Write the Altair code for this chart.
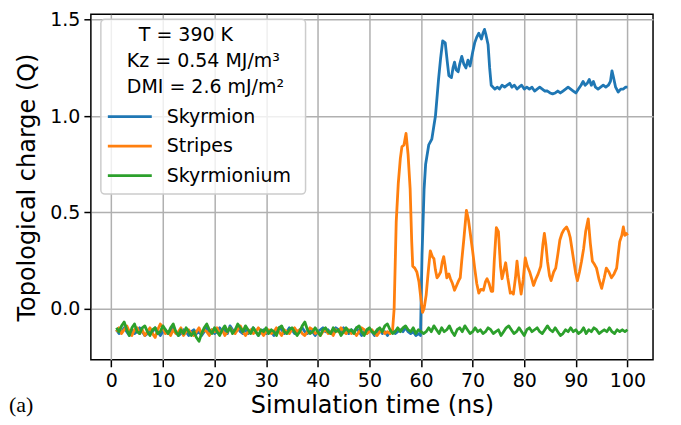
import altair as alt
import pandas as pd

# ---------------- data ----------------
SERIES = ["Skyrmion", "Stripes", "Skyrmionium"]
COLORS = ["#1f77b4", "#ff7f0e", "#2ca02c"]
INFO_LINES = ["T = 390 K", "Kz = 0.54 MJ/m\u00b3", "DMI = 2.6 mJ/m\u00b2"]
X_TICKS = [0, 10, 20, 30, 40, 50, 60, 70, 80, 90, 100]
Y_TICKS = [0.0, 0.5, 1.0, 1.5]

# Skyrmion: flat noisy part, t = 1.0 .. 59.5 every 0.5 ns
sky_flat = [
    -0.11, -0.13, -0.12, -0.10, -0.12, -0.14, -0.11, -0.13, -0.12, -0.10,
    -0.12, -0.14, -0.13, -0.11, -0.12, -0.10, -0.12, -0.14, -0.12, -0.11,
    -0.13, -0.12, -0.10, -0.12, -0.14, -0.13, -0.11, -0.12, -0.14, -0.12,
    -0.11, -0.13, -0.12, -0.14, -0.12, -0.10, -0.12, -0.11, -0.13, -0.12,
    -0.10, -0.12, -0.11, -0.13, -0.09, -0.11, -0.12, -0.10, -0.12, -0.13,
    -0.11, -0.13, -0.12, -0.10, -0.12, -0.14, -0.12, -0.11, -0.13, -0.12,
    -0.12, -0.14, -0.12, -0.10, -0.11, -0.13, -0.12, -0.10, -0.11, -0.13,
    -0.12, -0.11, -0.10, -0.12, -0.13, -0.11, -0.12, -0.14, -0.12, -0.11,
    -0.10, -0.12, -0.11, -0.13, -0.12, -0.10, -0.11, -0.12, -0.10, -0.12,
    -0.13, -0.11, -0.12, -0.10, -0.12, -0.14, -0.12, -0.13, -0.11, -0.12,
    -0.14, -0.12, -0.11, -0.13, -0.12, -0.14, -0.12, -0.11, -0.13, -0.12,
    -0.11, -0.12, -0.10, -0.12, -0.13, -0.12, -0.14, -0.13,
]
sky_t = [
    59.9, 60.2, 60.6, 60.9, 61.5, 62.1, 62.5, 62.8, 63.4, 63.8, 64.2, 64.7,
    65.1, 65.4, 65.9, 66.2, 66.5, 66.8, 67.2, 67.5, 67.9, 68.3, 68.7, 69.1,
    69.5, 70.0, 70.4, 70.8, 71.2, 71.7, 72.0, 72.3, 72.6, 73.0, 73.3, 73.6,
    74.3, 74.8, 75.2, 75.7, 76.2, 76.7, 77.2, 77.6, 78.1, 78.6, 79.0, 79.5,
    80.0, 80.5, 81.0, 81.5, 82.0, 82.5, 83.0, 83.5, 84.0, 84.5, 85.0, 85.5,
    86.0, 86.5, 87.0, 87.5, 88.0, 88.5, 89.0, 89.5, 90.0, 90.5, 91.0, 91.4,
    91.8, 92.2, 92.6, 93.0, 93.4, 93.8, 94.3, 94.8, 95.3, 95.8, 96.3, 96.7,
    97.0, 97.3, 97.7, 98.2, 98.7, 99.2, 99.6, 100.0,
]
sky_q = [
    -0.14, 0.28, 0.62, 0.75, 0.85, 0.88, 0.95, 1.00, 1.19, 1.30, 1.39, 1.38,
    1.28, 1.21, 1.20, 1.25, 1.28, 1.24, 1.23, 1.27, 1.31, 1.27, 1.25, 1.29,
    1.26, 1.33, 1.38, 1.41, 1.43, 1.40, 1.43, 1.45, 1.42, 1.37, 1.25, 1.16,
    1.14, 1.15, 1.14, 1.16, 1.15, 1.16, 1.17, 1.15, 1.16, 1.14, 1.15, 1.16,
    1.14, 1.15, 1.14, 1.15, 1.13, 1.14, 1.15, 1.14, 1.13, 1.13, 1.12, 1.115,
    1.12, 1.13, 1.12, 1.13, 1.14, 1.15, 1.14, 1.13, 1.12, 1.14, 1.16, 1.18,
    1.16, 1.17, 1.19, 1.16, 1.18, 1.15, 1.14, 1.15, 1.16, 1.15, 1.16, 1.18,
    1.235, 1.20, 1.15, 1.125, 1.14, 1.14, 1.15, 1.15,
]

# Stripes: flat noisy part, t = 1.0 .. 54.5 every 0.5 ns
str_flat = [
    -0.12, -0.10, -0.13, -0.11, -0.09, -0.12, -0.14, -0.11, -0.10, -0.13,
    -0.11, -0.14, -0.12, -0.10, -0.13, -0.15, -0.11, -0.08, -0.10, -0.13,
    -0.12, -0.14, -0.11, -0.13, -0.12, -0.10, -0.14, -0.12, -0.11, -0.13,
    -0.14, -0.12, -0.10, -0.13, -0.11, -0.12, -0.14, -0.11, -0.12, -0.10,
    -0.13, -0.11, -0.14, -0.12, -0.10, -0.12, -0.13, -0.11, -0.09, -0.12,
    -0.14, -0.12, -0.11, -0.13, -0.12, -0.10, -0.12, -0.14, -0.12, -0.11,
    -0.13, -0.12, -0.10, -0.12, -0.14, -0.11, -0.12, -0.13, -0.11, -0.10,
    -0.12, -0.11, -0.13, -0.14, -0.12, -0.10, -0.11, -0.13, -0.12, -0.14,
    -0.12, -0.11, -0.13, -0.12, -0.14, -0.11, -0.12, -0.10, -0.12, -0.13,
    -0.11, -0.13, -0.12, -0.14, -0.12, -0.10, -0.11, -0.13, -0.12, -0.11,
    -0.13, -0.14, -0.12, -0.11, -0.13, -0.12, -0.13, -0.11,
]
str_t = [
    54.8, 55.2, 55.6, 56.0, 56.3, 56.7, 57.1, 57.5, 57.9, 58.2, 58.4, 58.8,
    59.2, 59.6, 59.9, 60.3, 60.6, 61.0, 61.4, 61.8, 62.2, 62.5, 62.8, 63.1,
    63.4, 63.8, 64.1, 64.4, 64.7, 65.0, 65.4, 65.7, 66.1, 66.5, 66.9, 67.3,
    67.6, 67.9, 68.3, 68.8, 69.2, 69.5, 70.0, 70.4, 70.8, 71.2, 71.6, 72.1,
    72.5, 72.8, 73.2, 73.6, 73.9, 74.2, 74.6, 75.0, 75.4, 75.7, 76.0, 76.4,
    76.8, 77.3, 77.6, 77.9, 78.3, 78.6, 78.9, 79.4, 79.8, 80.2, 80.6, 81.1,
    81.5, 81.8, 82.2, 82.7, 83.2, 83.6, 83.9, 84.2, 84.5, 84.9, 85.2, 85.7,
    86.1, 86.5, 86.9, 87.3, 87.7, 88.2, 88.6, 88.9, 89.3, 89.7, 90.0, 90.3,
    90.7, 91.1, 91.5, 91.9, 92.4, 92.8, 93.2, 93.6, 94.0, 94.5, 95.0, 95.5,
    95.9, 96.4, 96.9, 97.4, 97.9, 98.2, 98.5, 98.9, 99.2, 99.5, 99.8, 100.0,
]
str_q = [
    0.00, 0.45, 0.65, 0.78, 0.84, 0.85, 0.91, 0.80, 0.62, 0.35, 0.22, 0.21,
    0.19, 0.14, 0.07, -0.02, 0.00, 0.07, 0.19, 0.30, 0.27, 0.26, 0.20, 0.16,
    0.17, 0.19, 0.24, 0.27, 0.22, 0.16, 0.18, 0.155, 0.13, 0.095, 0.12, 0.145,
    0.16, 0.25, 0.36, 0.51, 0.46, 0.40, 0.30, 0.21, 0.13, 0.08, 0.10, 0.095,
    0.14, 0.155, 0.13, 0.09, 0.09, 0.25, 0.42, 0.40, 0.22, 0.155, 0.19, 0.238,
    0.16, 0.08, 0.085, 0.075, 0.16, 0.246, 0.17, 0.075, 0.15, 0.263, 0.22, 0.187,
    0.15, 0.12, 0.15, 0.18, 0.22, 0.33, 0.39, 0.33, 0.246, 0.17, 0.145, 0.19,
    0.21, 0.28, 0.356, 0.39, 0.41, 0.424, 0.40, 0.37, 0.30, 0.23, 0.18, 0.145,
    0.19, 0.246, 0.31, 0.40, 0.466, 0.34, 0.246, 0.23, 0.21, 0.15, 0.105, 0.16,
    0.21, 0.19, 0.16, 0.18, 0.21, 0.28, 0.348, 0.38, 0.424, 0.38, 0.39, 0.38,
]

# Skyrmionium: t = 1.0 .. 100.0 every 0.5 ns
skm_q = [
    -0.10, -0.12, -0.09, -0.07, -0.11, -0.14, -0.10, -0.08, -0.12, -0.13,
    -0.10, -0.09, -0.12, -0.14, -0.11, -0.10, -0.13, -0.12, -0.09, -0.11,
    -0.13, -0.10, -0.08, -0.12, -0.14, -0.11, -0.13, -0.10, -0.12, -0.14,
    -0.12, -0.15, -0.17, -0.13, -0.10, -0.08, -0.11, -0.13, -0.10, -0.12,
    -0.14, -0.11, -0.09, -0.12, -0.10, -0.13, -0.11, -0.08, -0.10, -0.12,
    -0.09, -0.11, -0.13, -0.10, -0.12, -0.14, -0.11, -0.12, -0.10, -0.13,
    -0.11, -0.12, -0.14, -0.10, -0.09, -0.12, -0.13, -0.11, -0.10, -0.12,
    -0.14, -0.12, -0.09, -0.07, -0.11, -0.13, -0.12, -0.10, -0.12, -0.14,
    -0.11, -0.10, -0.12, -0.13, -0.10, -0.12, -0.11, -0.14, -0.12, -0.10,
    -0.12, -0.11, -0.13, -0.10, -0.09, -0.12, -0.14, -0.11, -0.10, -0.12,
    -0.13, -0.11, -0.10, -0.12, -0.09, -0.08, -0.11, -0.13, -0.12, -0.10,
    -0.12, -0.10, -0.09, -0.11, -0.12, -0.10, -0.13, -0.11, -0.12, -0.13,
    -0.12, -0.10, -0.12, -0.09, -0.11, -0.13, -0.10, -0.12, -0.11, -0.09,
    -0.12, -0.14, -0.11, -0.10, -0.12, -0.09, -0.11, -0.13, -0.12, -0.10,
    -0.12, -0.11, -0.13, -0.12, -0.10, -0.11, -0.13, -0.12, -0.11, -0.14,
    -0.12, -0.10, -0.09, -0.11, -0.13, -0.12, -0.10, -0.12, -0.14, -0.11,
    -0.10, -0.12, -0.11, -0.10, -0.12, -0.13, -0.11, -0.09, -0.11, -0.12,
    -0.10, -0.12, -0.14, -0.13, -0.11, -0.12, -0.10, -0.12, -0.11, -0.13,
    -0.12, -0.10, -0.13, -0.11, -0.12, -0.10, -0.11, -0.13, -0.12, -0.11,
    -0.12, -0.10, -0.12, -0.13, -0.11, -0.12, -0.11, -0.12, -0.11,
]


def half_steps(n):
    return [1.0 + 0.5 * i for i in range(n)]


rows = []
for t, q in zip(half_steps(len(sky_flat)) + sky_t, sky_flat + sky_q):
    rows.append({"series": SERIES[0], "t": t, "q": q})
for t, q in zip(half_steps(len(str_flat)) + str_t, str_flat + str_q):
    rows.append({"series": SERIES[1], "t": t, "q": q})
for t, q in zip(half_steps(len(skm_q)), skm_q):
    rows.append({"series": SERIES[2], "t": t, "q": q})
df = pd.DataFrame(rows)

# ---------------- styling ----------------
FONT = "DejaVu Sans"
x_scale = alt.Scale(domain=[-3.95, 104.95], nice=False, zero=False)
y_scale = alt.Scale(domain=[-0.266, 1.5285], nice=False, zero=False)

common_axis = dict(
    grid=True, gridColor="#b0b0b0", gridWidth=1.5, domain=False,
    tickColor="black", tickSize=7, tickWidth=1.5,
    labelFont=FONT, labelFontSize=19, labelColor="black",
    labelFlush=False, labelOverlap=False,
    titleFont=FONT, titleFontSize=24, titleFontWeight="normal", titleColor="black",
)
x_axis = alt.Axis(values=X_TICKS, format="d", title="Simulation time (ns)",
                  labelPadding=5, titlePadding=3, **common_axis)
y_axis = alt.Axis(values=Y_TICKS, format=".1f", title="Topological charge (Q)",
                  labelPadding=4, titlePadding=10, **common_axis)

layers = []
for name, col in zip(SERIES, COLORS):
    layers.append(
        alt.Chart(df)
        .transform_filter(alt.datum.series == name)
        .mark_line(color=col, strokeWidth=2.8, strokeJoin="round")
        .encode(
            x=alt.X("t:Q", scale=x_scale, axis=x_axis),
            y=alt.Y("q:Q", scale=y_scale, axis=y_axis),
        )
    )

dummy = pd.DataFrame({"d": [0]})

# legend box
layers.append(
    alt.Chart(dummy).mark_rect(
        fill="white", fillOpacity=0.8, stroke="#cccccc", strokeWidth=1.5, cornerRadius=4
    ).encode(x=alt.value(10), x2=alt.value(215), y=alt.value(5), y2=alt.value(180))
)

# info lines in the legend
info_x = [48, 36, 36]
info_y = [20.5, 46.5, 72.5]
for txt, lx, ly in zip(INFO_LINES, info_x, info_y):
    layers.append(
        alt.Chart(dummy).mark_text(
            font=FONT, fontSize=19, color="black", align="left", baseline="middle"
        ).encode(x=alt.value(lx), y=alt.value(ly), text=alt.value(txt))
    )

# legend entries
entry_y = [102.5, 132, 161.5]
for name, col, ey in zip(SERIES, COLORS, entry_y):
    layers.append(
        alt.Chart(dummy).mark_rule(color=col, strokeWidth=2.8).encode(
            x=alt.value(17), x2=alt.value(61), y=alt.value(ey)
        )
    )
    layers.append(
        alt.Chart(dummy).mark_text(
            font=FONT, fontSize=19, color="black", align="left", baseline="middle"
        ).encode(x=alt.value(76), y=alt.value(ey), text=alt.value(name))
    )

# panel label
layers.append(
    alt.Chart(dummy).mark_text(
        font="Liberation Serif", fontSize=22, color="black", align="left", baseline="middle"
    ).encode(x=alt.value(-82), y=alt.value(391), text=alt.value("(a)"))
)

chart = (
    alt.layer(*layers)
    .properties(
        width=563, height=346,
        padding={"left": 83, "top": 6, "right": 20, "bottom": 58},
        autosize=alt.AutoSizeParams(type="none"),
    )
    .configure_view(stroke="black", strokeWidth=1.5)
)

chart.save("out.html", embed_options={"renderer": "svg", "actions": False})
